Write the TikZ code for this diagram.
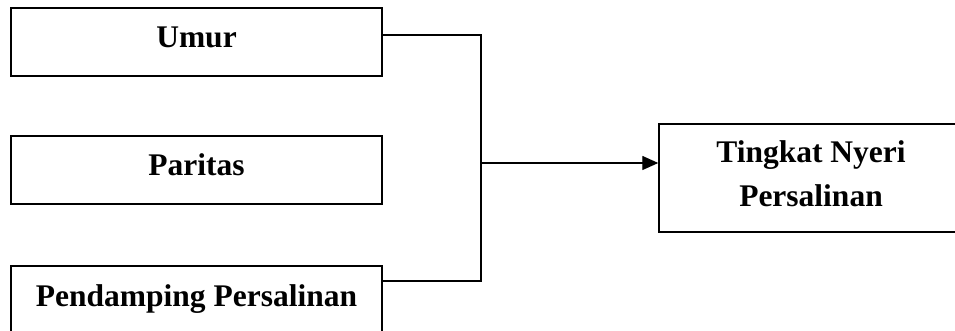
\documentclass[tikz,border=0pt]{standalone}
\usepackage{fontspec}
\setmainfont{Liberation Serif}
\usetikzlibrary{arrows.meta}
\begin{document}
\begin{tikzpicture}[x=1pt,y=-1pt,
  box/.style={draw=black,line width=1.4pt,rectangle,inner sep=0pt},
  lbl/.style={font=\fontsize{31.5}{44}\selectfont\bfseries,anchor=base,inner sep=0pt,align=center},
  conn/.style={draw=black,line width=1.3pt}]
\clip (0,0) rectangle (955,331);
\fill[white] (0,0) rectangle (955,331);
% boxes
\node[box,minimum width=371pt,minimum height=68pt] (umur) at (196.5,42) {};
\node[box,minimum width=371pt,minimum height=68pt] (paritas) at (196.5,170) {};
\node[box,minimum width=371pt,minimum height=70pt] (pend) at (196.5,301) {};
\node[box,minimum width=306pt,minimum height=108pt] (tingkat) at (812,178) {};
% labels
\node[lbl] (tumur) at (196.5,47.5) {Umur};
\node[lbl] (tparitas) at (196.5,176) {Paritas};
\node[lbl] (tpend) at (196.5,306) {Pendamping Persalinan};
\node[lbl] (tting1) at (811,163) {Tingkat Nyeri};
\node[lbl] (tting2) at (811,207) {Persalinan};
% connectors
\coordinate (top) at (481,35);
\coordinate (bot) at (481,281);
\coordinate (mid) at (481,163);
\draw[conn] (umur.east |- top) -- (top) -- (bot) -- (pend.east |- bot);
\draw[conn,-{Triangle[length=16pt,width=14pt]}] (mid) -- (tingkat.west |- mid);
\end{tikzpicture}
\end{document}
